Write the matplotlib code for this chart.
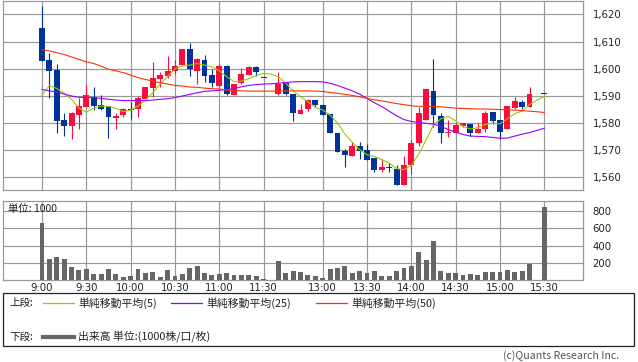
import numpy as np
import matplotlib
matplotlib.use("Agg")
import matplotlib.pyplot as plt
from matplotlib.lines import Line2D
from matplotlib.patches import Rectangle

nan = np.nan
# ---- data (slot = 5-minute bar index, 9:00 = 0, 11:30 = 30, 12:30 = 32, 15:30 = 68) ----
opens = [1614.9, 1603.1, 1599.4, 1581.1, 1579.0, 1583.0, 1586.0, 1589.4, 1586.6, 1586.2,
         1581.9, 1582.9, 1585.0, 1585.2, 1588.9, 1592.8, 1596.1, 1597.2, 1599.1, 1601.3,
         1607.1, 1599.2, 1603.1, 1597.6, 1593.7, 1600.9, 1590.2, 1594.8, 1597.6, 1600.7,
         1596.7, nan, 1590.6, 1594.7, 1590.6, 1583.2, 1585.2, 1588.4, 1586.6, 1583.3,
         1576.3, 1569.7, 1567.9, 1571.4, 1569.9, 1567.1, 1562.6, 1563.6, 1562.8, 1557.1,
         1564.4, 1572.4, 1581.0, 1591.8, 1582.5, 1576.1, 1576.1, 1578.9, 1579.5, 1576.3,
         1577.8, 1583.9, 1581.0, 1577.6, 1585.3, 1587.5, 1585.9, nan, 1590.8]
highs = [1623.1, 1605.8, 1601.6, 1583.5, 1584.0, 1589.3, 1593.9, 1593.1, 1590.1, 1586.2,
         1583.5, 1585.4, 1587.8, 1590.0, 1593.1, 1602.4, 1598.7, 1604.6, 1603.1, 1607.1,
         1609.5, 1603.8, 1604.9, 1600.0, 1601.6, 1601.3, 1594.5, 1600.3, 1601.0, 1601.0,
         1596.7, nan, 1598.9, 1595.2, 1590.8, 1587.1, 1588.9, 1588.4, 1587.0, 1583.4,
         1576.3, 1570.2, 1572.9, 1572.9, 1572.2, 1567.1, 1566.5, 1565.1, 1564.3, 1567.7,
         1573.8, 1585.7, 1592.6, 1603.5, 1583.8, 1581.2, 1579.8, 1579.8, 1579.5, 1579.8,
         1584.3, 1583.9, 1581.0, 1586.1, 1589.6, 1588.3, 1593.2, nan, 1590.8]
lows = [1602.9, 1589.3, 1576.2, 1575.0, 1574.0, 1577.9, 1586.0, 1584.7, 1584.7, 1574.3,
        1577.9, 1582.1, 1581.3, 1582.1, 1588.9, 1589.6, 1593.3, 1596.4, 1598.0, 1601.3,
        1597.2, 1594.5, 1595.2, 1593.3, 1593.1, 1590.2, 1590.2, 1594.5, 1597.6, 1597.2,
        1596.7, nan, 1590.2, 1590.2, 1580.7, 1583.2, 1584.2, 1585.9, 1582.8, 1576.1,
        1569.3, 1563.6, 1567.9, 1566.5, 1566.3, 1562.0, 1562.0, 1562.0, 1557.1, 1557.1,
        1561.0, 1571.3, 1581.0, 1578.6, 1572.6, 1574.8, 1576.1, 1578.5, 1575.1, 1576.3,
        1576.7, 1579.5, 1573.9, 1577.6, 1585.0, 1585.0, 1585.9, nan, 1590.8]
closes = [1602.9, 1599.2, 1580.8, 1579.0, 1583.5, 1586.2, 1590.1, 1586.2, 1585.2, 1582.1,
          1582.7, 1585.0, 1585.0, 1589.3, 1593.1, 1596.5, 1597.6, 1599.2, 1601.0, 1607.1,
          1599.9, 1603.5, 1597.4, 1594.8, 1600.9, 1590.5, 1594.5, 1598.0, 1600.7, 1598.8,
          1596.7, nan, 1594.5, 1590.8, 1583.7, 1584.9, 1588.3, 1586.5, 1582.8, 1576.1,
          1569.3, 1568.2, 1571.4, 1569.7, 1566.3, 1562.6, 1563.6, 1563.6, 1557.1, 1564.4,
          1572.6, 1583.7, 1592.6, 1582.8, 1576.1, 1576.7, 1579.1, 1579.8, 1576.3, 1577.6,
          1583.7, 1580.7, 1576.7, 1586.1, 1588.0, 1585.9, 1590.8, nan, 1590.8]
volume = [667, 246, 269, 246, 152, 117, 129, 70, 70, 129,
          70, 39, 47, 129, 82, 94, 35, 117, 47, 70,
          140, 164, 82, 58, 70, 82, 58, 58, 58, 47,
          8, nan, 222, 82, 105, 94, 58, 51, 20, 129,
          140, 164, 82, 105, 82, 105, 47, 47, 105, 140,
          164, 328, 234, 456, 105, 82, 82, 58, 70, 58,
          94, 94, 94, 117, 94, 105, 187, nan, 854]
ma5 = [1590.3, 1593.7, 1592.7, 1590.9, 1588.7, 1585.4, 1583.9, 1585.4, 1586.2, 1586.0,
       1585.4, 1584.1, 1584.7, 1586.2, 1588.4, 1591.1, 1594.3, 1597.0, 1600.0, 1600.9,
       1601.3, 1601.9, 1601.3, 1600.7, 1599.2, 1597.0, 1595.2, 1595.4, 1596.3, 1597.5,
       1598.2, 1598.0, 1597.0, 1594.6, 1591.8, 1589.6, 1587.8, 1585.7, 1584.7, 1582.9,
       1579.9, 1575.9, 1572.8, 1570.1, 1568.2, 1567.6, 1566.4, 1565.2, 1563.1, 1562.7,
       1564.3, 1568.5, 1573.7, 1579.2, 1581.5, 1582.4, 1580.7, 1578.6, 1577.7, 1578.2,
       1579.4, 1579.9, 1579.6, 1581.5, 1583.4, 1584.3, 1586.7, 1588.3, 1589.7]
ma25 = [1592.3, 1591.8, 1591.4, 1590.6, 1589.9, 1589.4, 1589.4, 1589.3, 1589.0, 1588.7,
        1588.4, 1588.2, 1588.2, 1588.2, 1588.2, 1588.4, 1588.7, 1588.9, 1589.3, 1589.9,
        1590.5, 1591.1, 1591.6, 1591.8, 1592.0, 1592.3, 1592.6, 1593.3, 1593.8, 1594.1,
        1594.3, 1594.4, 1594.6, 1594.9, 1595.1, 1595.2, 1595.2, 1595.2, 1595.1, 1594.6,
        1593.8, 1592.8, 1591.8, 1590.6, 1589.0, 1587.4, 1586.0, 1584.3, 1582.6, 1581.2,
        1580.5, 1580.1, 1579.8, 1579.5, 1578.7, 1577.5, 1576.6, 1575.7, 1575.1, 1575.0,
        1574.9, 1574.6, 1574.3, 1574.4, 1575.1, 1575.8, 1576.4, 1577.2, 1578.0]
ma50 = [1607.0, 1606.5, 1605.9, 1605.2, 1604.3, 1603.4, 1602.5, 1601.9, 1600.9, 1599.8,
        1599.2, 1598.5, 1597.6, 1596.7, 1596.0, 1595.4, 1594.8, 1594.3, 1593.8, 1593.6,
        1593.2, 1593.1, 1592.8, 1592.6, 1592.5, 1592.1, 1592.0, 1591.8, 1591.7, 1591.7,
        1591.7, 1591.7, 1591.8, 1591.8, 1591.8, 1591.8, 1591.8, 1591.7, 1591.6, 1591.2,
        1590.9, 1590.5, 1590.1, 1589.6, 1589.0, 1588.5, 1588.1, 1587.6, 1587.1, 1586.7,
        1586.3, 1586.1, 1586.0, 1586.0, 1585.9, 1585.7, 1585.4, 1585.3, 1585.2, 1585.1,
        1585.1, 1585.0, 1584.9, 1584.8, 1584.7, 1584.5, 1584.3, 1584.1, 1583.8]
time_labels = ["9:00", "9:30", "10:00", "10:30", "11:00", "11:30",
               "13:00", "13:30", "14:00", "14:30", "15:00", "15:30"]
time_slots = [0, 6, 12, 18, 24, 30, 38, 44, 50, 56, 62, 68]
price_ticks = [1560, 1570, 1580, 1590, 1600, 1610, 1620]
vol_ticks = [200, 400, 600, 800]

# ---- style ----
W, H = 638, 362
UP, DOWN = "#ff0a3c", "#003399"
GRID = "#999999"
C5, C25, C50 = "#99cc00", "#9900ff", "#ff3300"
VOLC = "#666666"
LBL = dict(family="DejaVu Sans", size=7.3, color="#222222")
JP = ["Noto Sans CJK JP", "DejaVu Sans"]

def fx(px):
    return px / W

def fy(py):
    return 1 - py / H

fig = plt.figure(figsize=(W / 100, H / 100), dpi=100)
fig.patch.set_facecolor("white")

x0, x1 = 3.0, 582.7
slot_px = (544.3 - 42.0) / 68
xlim = ((x0 - 42.0) / slot_px, (x1 - 42.0) / slot_px)

axp = fig.add_axes([fx(x0), fy(190.0), fx(x1) - fx(x0), fy(0.5) - fy(190.0)])
axv = fig.add_axes([fx(x0), fy(280.0), fx(x1) - fx(x0), fy(201.3) - fy(280.0)])

for ax in (axp, axv):
    ax.set_xlim(*xlim)
    for s in ax.spines.values():
        s.set_color(GRID)
        s.set_linewidth(0.9)
    ax.set_xticks(time_slots)
    ax.grid(True, color=GRID, linewidth=0.85)
    ax.set_axisbelow(True)
    ax.tick_params(length=0)
    ax.yaxis.tick_right()

# ---- price panel ----
slots = np.arange(len(opens))
o = np.array(opens, float)
h = np.array(highs, float)
l = np.array(lows, float)
c = np.array(closes, float)
valid = ~np.isnan(o)
cols = np.where(c > o, UP, DOWN)
axp.vlines(slots[valid], l[valid], h[valid], colors=cols[valid], linewidth=0.8, zorder=3)
diff = np.abs(c - o)
body_h = np.maximum(diff, 0.4)
body_bottom = np.minimum(o, c) - np.where(diff < 0.4, 0.2, 0.0)
axp.bar(slots[valid], body_h[valid], bottom=body_bottom[valid],
        width=0.8, color=cols[valid], linewidth=0, zorder=4)

xs = np.arange(len(ma5))
axp.plot(xs, ma5, color=C5, linewidth=0.8, zorder=5)
axp.plot(xs, ma25, color=C25, linewidth=0.8, zorder=5)
axp.plot(xs, ma50, color=C50, linewidth=0.8, zorder=5)

axp.set_ylim(1555.2, 1625.15)
axp.set_yticks(price_ticks)
axp.set_yticklabels([f"{v:,}" for v in price_ticks], **LBL)
axp.set_xticklabels([])
axp.tick_params(axis="y", pad=7.2)

# ---- volume panel ----
vol = np.array(volume, float)
vv = ~np.isnan(vol)
axv.bar(slots[vv], vol[vv], width=0.66, color=VOLC, linewidth=0, zorder=3)
axv.set_ylim(0, 915)
axv.set_yticks(vol_ticks)
axv.set_yticklabels([str(v) for v in vol_ticks], **LBL)
axv.set_xticklabels(time_labels, **LBL)
axv.tick_params(axis="y", pad=7.2)
axv.tick_params(axis="x", pad=2.5)
axv.text(0.009, 0.9, "単位: 1000", transform=axv.transAxes, family=JP, size=7.5,
         color="#222222", ha="left", va="center", zorder=6)

# ---- legend box ----
fig.patches.append(Rectangle((fx(3), fy(346)), fx(634) - fx(3), fy(293.3) - fy(346),
                             transform=fig.transFigure, fill=False, edgecolor="#222222",
                             linewidth=0.9))
row1, row2 = 303.0, 336.5
fig.text(fx(9), fy(row1), "上段:", family=JP, size=7.6, va="center", ha="left", color="#222222")
fig.text(fx(9), fy(row2), "下段:", family=JP, size=7.6, va="center", ha="left", color="#222222")
items = [(43, C5, "単純移動平均(5)"), (171, C25, "単純移動平均(25)"), (316, C50, "単純移動平均(50)")]
for px, col, txt in items:
    fig.add_artist(Line2D([fx(px), fx(px + 31)], [fy(row1), fy(row1)], color=col,
                          linewidth=0.9, transform=fig.transFigure))
    fig.text(fx(px + 35), fy(row1), txt, family=JP, size=7.8, va="center", ha="left",
             color="#222222")
fig.add_artist(Line2D([fx(43), fx(74)], [fy(row2), fy(row2)], color=VOLC,
                      linewidth=3.0, transform=fig.transFigure))
fig.text(fx(78), fy(row2), "出来高 単位:(1000株/口/枚)", family=JP, size=7.8, va="center",
         ha="left", color="#222222")
fig.text(fx(619), fy(356), "(c)Quants Research Inc.", family=JP, size=7.6, va="center",
         ha="right", color="#555555")

fig.savefig("out.png", dpi=100, facecolor="white")
